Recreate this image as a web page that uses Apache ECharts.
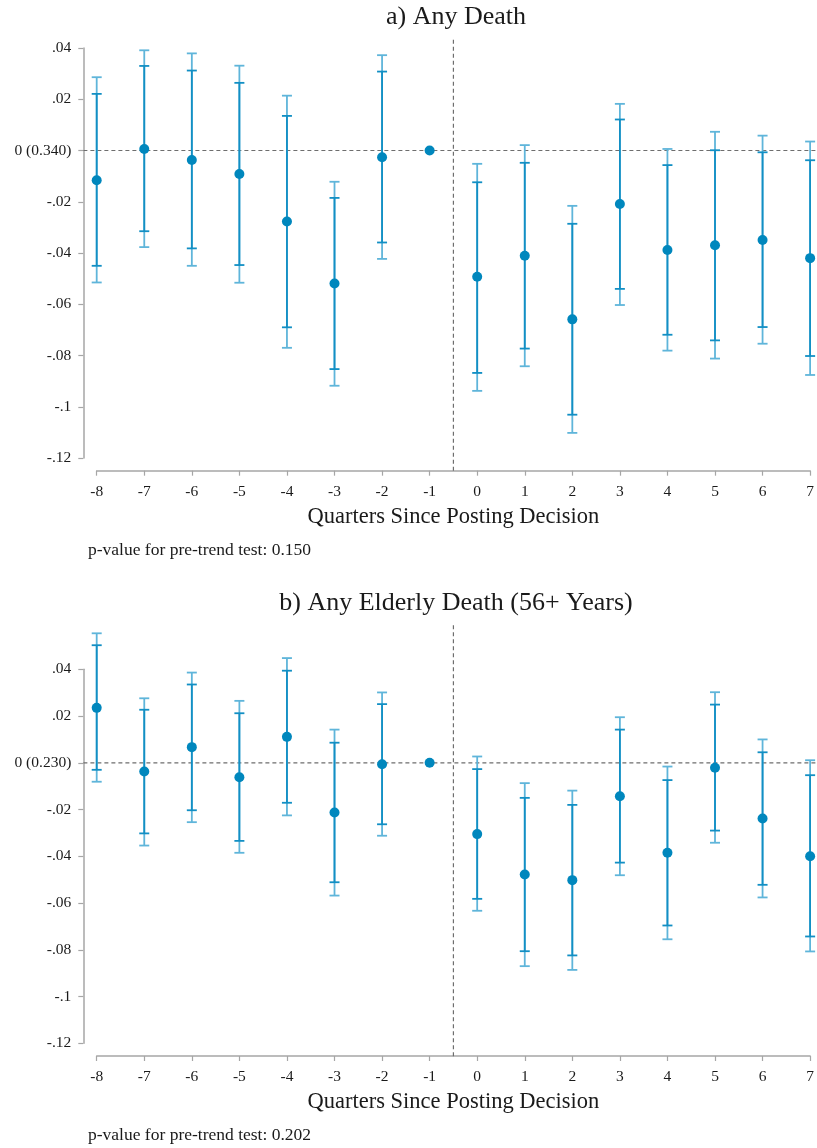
<!DOCTYPE html>
<html>
<head>
<meta charset="utf-8">
<script src="https://cdn.jsdelivr.net/npm/echarts@6/dist/echarts.min.js"></script>
<style>
  html, body { margin: 0; padding: 0; background: #fff; }
  #chart { width: 817px; height: 1148px; }
</style>
</head>
<body>
<div id="chart"></div>
<script>
// ---------- DATA ----------
const quarters = [-8, -7, -6, -5, -4, -3, -2, -1, 0, 1, 2, 3, 4, 5, 6, 7];

// Panel a) Any Death
const aPoint = [-0.0116, 0.0006, -0.0037, -0.0092, -0.0277, -0.0519, -0.0026, 0, -0.0493, -0.0411, -0.0659, -0.0209, -0.0388, -0.0370, -0.0349, -0.0420];
const aLo95  = [-0.0515, -0.0377, -0.0450, -0.0516, -0.0770, -0.0918, -0.0423, null, -0.0938, -0.0842, -0.1102, -0.0603, -0.0781, -0.0812, -0.0754, -0.0876];
const aLo90  = [-0.0450, -0.0315, -0.0382, -0.0447, -0.0690, -0.0853, -0.0359, null, -0.0868, -0.0773, -0.1031, -0.0540, -0.0719, -0.0741, -0.0689, -0.0802];
const aHi90  = [0.0221, 0.0330, 0.0312, 0.0264, 0.0135, -0.0185, 0.0308, null, -0.0124, -0.0048, -0.0286, 0.0121, -0.0057, 0.0001, -0.0007, -0.0038];
const aHi95  = [0.0286, 0.0391, 0.0379, 0.0331, 0.0214, -0.0122, 0.0372, null, -0.0052, 0.0021, -0.0216, 0.0182, 0.0006, 0.0073, 0.0058, 0.0035];

// Panel b) Any Elderly Death (56+ Years)
const bPoint = [0.0235, -0.0037, 0.0067, -0.0062, 0.0111, -0.0213, -0.0006, 0, -0.0305, -0.0478, -0.0502, -0.0143, -0.0385, -0.0021, -0.0238, -0.0400];
const bLo95  = [-0.0081, -0.0354, -0.0254, -0.0385, -0.0225, -0.0568, -0.0312, null, -0.0633, -0.0870, -0.0886, -0.0481, -0.0755, -0.0342, -0.0576, -0.0807];
const bLo90  = [-0.0030, -0.0302, -0.0203, -0.0334, -0.0171, -0.0511, -0.0263, null, -0.0582, -0.0806, -0.0824, -0.0427, -0.0696, -0.0290, -0.0522, -0.0743];
const bHi90  = [0.0503, 0.0227, 0.0335, 0.0212, 0.0394, 0.0086, 0.0251, null, -0.0027, -0.0150, -0.0180, 0.0142, -0.0074, 0.0249, 0.0045, -0.0053];
const bHi95  = [0.0554, 0.0276, 0.0386, 0.0265, 0.0448, 0.0142, 0.0301, null, 0.0027, -0.0087, -0.0119, 0.0195, -0.0016, 0.0302, 0.0100, 0.0011];

const xTickLabels = ['-8','-7','-6','-5','-4','-3','-2','-1','0','1','2','3','4','5','6','7'];
const aYTickLabels = ['-.12', '-.1', '-.08', '-.06', '-.04', '-.02', '0 (0.340)', '.02', '.04'];
const bYTickLabels = ['-.12', '-.1', '-.08', '-.06', '-.04', '-.02', '0 (0.230)', '.02', '.04'];

const aTitle = 'a) Any Death';
const bTitle = 'b) Any Elderly Death (56+ Years)';
const xAxisTitle = 'Quarters Since Posting Decision';
const aNote = 'p-value for pre-trend test: 0.150';
const bNote = 'p-value for pre-trend test: 0.202';

// reference lines (data space)
const eventLineX = -0.5;
const zeroLineY = 0;

// ---------- STYLE ----------
const FONT = '"Liberation Serif", "DejaVu Serif", serif';
const DOT = '#0087bd';
const DARK = '#128fc4';
const LIGHT = '#5fb5da';
const AXIS = '#a6a6a6';
const REF = '#6e6e6e';
const TXT = '#1a1a1a';

function ciData(lo95, lo90, hi90, hi95) {
  const out = [];
  quarters.forEach((q, i) => {
    if (lo95[i] !== null) out.push([q, lo95[i], lo90[i], hi90[i], hi95[i]]);
  });
  return out;
}
function ptData(p) { return quarters.map((q, i) => [q, p[i]]); }

function ciRender(params, api) {
  const x = api.value(0);
  const p95l = api.coord([x, api.value(1)]);
  const p90l = api.coord([x, api.value(2)]);
  const p90h = api.coord([x, api.value(3)]);
  const p95h = api.coord([x, api.value(4)]);
  const hw = 5;
  const line = (x1, y1, x2, y2, c) => ({
    type: 'line', shape: { x1, y1, x2, y2 }, style: { stroke: c, lineWidth: 1.8 }
  });
  return {
    type: 'group',
    children: [
      line(p95l[0], p95l[1], p95h[0], p95h[1], LIGHT),
      line(p90l[0], p90l[1], p90h[0], p90h[1], DARK),
      line(p95l[0] - hw, p95l[1], p95l[0] + hw, p95l[1], LIGHT),
      line(p95h[0] - hw, p95h[1], p95h[0] + hw, p95h[1], LIGHT),
      line(p90l[0] - hw, p90l[1], p90l[0] + hw, p90l[1], DARK),
      line(p90h[0] - hw, p90h[1], p90h[0] + hw, p90h[1], DARK)
    ]
  };
}

// reference lines: [x1, y1, x2, y2] in data space
function refRender(params, api) {
  const a = api.coord([api.value(0), api.value(1)]);
  const b = api.coord([api.value(2), api.value(3)]);
  return {
    type: 'line',
    shape: { x1: a[0], y1: a[1], x2: b[0], y2: b[1] },
    style: { stroke: REF, lineWidth: 1.2, lineDash: [4, 3] }
  };
}

function makeX(gi) {
  return {
    type: 'value', gridIndex: gi, min: -8, max: 7, interval: 1,
    offset: 12.7,
    axisLine: { show: true, onZero: false, lineStyle: { color: AXIS, width: 1.5 } },
    axisTick: { show: true, length: 5, lineStyle: { color: AXIS, width: 1.2 } },
    axisLabel: { fontFamily: FONT, fontSize: 15.5, color: TXT, margin: 13,
      formatter: (v) => xTickLabels[quarters.indexOf(Math.round(v))] },
    splitLine: { show: false },
    name: xAxisTitle, nameLocation: 'middle', nameGap: 35,
    nameTextStyle: { fontFamily: FONT, fontSize: 22.5, color: TXT }
  };
}
function makeY(gi, labels) {
  return {
    type: 'value', gridIndex: gi, min: -0.12, max: 0.04, interval: 0.02,
    offset: 13.4,
    axisLine: { show: true, onZero: false, lineStyle: { color: AXIS, width: 1.5 } },
    axisTick: { show: true, length: 5, lineStyle: { color: AXIS, width: 1.2 } },
    axisLabel: { fontFamily: FONT, fontSize: 15.5, color: TXT, margin: 12,
      formatter: (v) => labels[Math.round((v + 0.12) / 0.02)] },
    splitLine: { show: false }
  };
}

const chart = echarts.init(document.getElementById('chart'), null, { renderer: 'canvas' });

function txt(s, x, y, size, align) {
  return { type: 'text', x: x, y: y, silent: true,
    style: { text: s, font: size + 'px ' + FONT, fill: TXT, align: align, verticalAlign: 'middle' } };
}

const option = {
  animation: false,
  backgroundColor: '#fff',
  grid: [
    { left: 96.7, right: 3, top: 48, height: 410 },
    { left: 96.7, right: 3, top: 669.3, height: 374 }
  ],
  xAxis: [makeX(0), makeX(1)],
  yAxis: [makeY(0, aYTickLabels), makeY(1, bYTickLabels)],
  graphic: [
    txt(aTitle, 456, 17.5, 26, 'center'),
    txt(aNote, 88, 550, 17.5, 'left'),
    txt(bTitle, 456, 603, 26, 'center'),
    txt(bNote, 88, 1135.5, 17.5, 'left')
  ],
  series: [
    { type: 'custom', xAxisIndex: 0, yAxisIndex: 0, clip: false, silent: true, z: 1,
      renderItem: refRender,
      data: [[eventLineX, -0.125, eventLineX, 0.0439], [-8.28, zeroLineY, 7.5, zeroLineY]] },
    { type: 'custom', xAxisIndex: 0, yAxisIndex: 0, clip: false, z: 2,
      renderItem: ciRender, data: ciData(aLo95, aLo90, aHi90, aHi95) },
    { type: 'scatter', xAxisIndex: 0, yAxisIndex: 0, clip: false, z: 3,
      symbol: 'circle', symbolSize: 10, itemStyle: { color: DOT, opacity: 1 },
      data: ptData(aPoint) },

    { type: 'custom', xAxisIndex: 1, yAxisIndex: 1, clip: false, silent: true, z: 1,
      renderItem: refRender,
      data: [[eventLineX, -0.1255, eventLineX, 0.0597], [-8.28, zeroLineY, 7.5, zeroLineY]] },
    { type: 'custom', xAxisIndex: 1, yAxisIndex: 1, clip: false, z: 2,
      renderItem: ciRender, data: ciData(bLo95, bLo90, bHi90, bHi95) },
    { type: 'scatter', xAxisIndex: 1, yAxisIndex: 1, clip: false, z: 3,
      symbol: 'circle', symbolSize: 10, itemStyle: { color: DOT, opacity: 1 },
      data: ptData(bPoint) }
  ]
};
chart.setOption(option);
</script>
</body>
</html>
